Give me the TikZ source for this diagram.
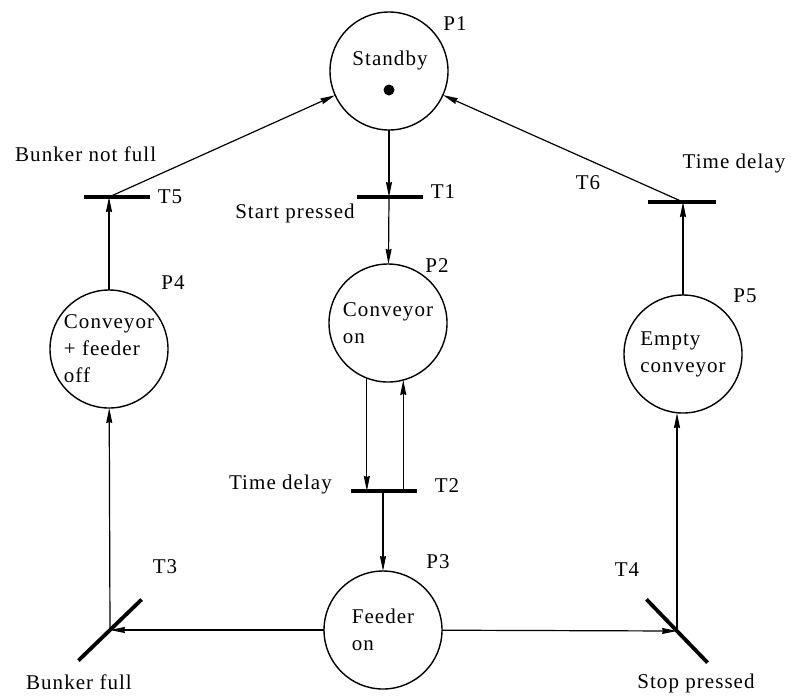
\documentclass[tikz,border=0pt]{standalone}
\usepackage{fontspec}
\setmainfont{Liberation Serif}[LetterSpace=5]
\usetikzlibrary{arrows.meta,calc}
\begin{document}
\begin{tikzpicture}[x=1pt,y=-1pt,
  every node/.style={font=\fontsize{21}{27}\selectfont},
  place/.style={circle,draw,line width=1.4pt,minimum size=118pt,inner sep=0pt,outer sep=0pt,align=left},
  tbar/.style={rectangle,fill=black,minimum width=66pt,minimum height=3.8pt,inner sep=0pt,outer sep=0pt},
  arc/.style={line width=1.2pt,-{Stealth[length=15pt,width=6pt,inset=1pt]}},
  lbl/.style={inner sep=0pt},
  tok/.style={circle,fill=black,minimum size=11pt,inner sep=0pt}
]
\path[use as bounding box] (0,0) rectangle (791,697);

% places
\node[place] (P1) at (389,71) {};
\node[lbl] (standby) at (390,60) {Standby};
\node[tok] (token) at (389,90) {};
\node[place] (P2) at (388,323) {Conveyor\\on};
\node[place] (P3) at (383,630) {Feeder\\on};
\node[place] (P4) at (109,349) {Conveyor\\ + feeder\\off};
\node[place] (P5) at (683,354) {Empty\\conveyor};

% transitions
\node[tbar] (T1) at (389.5,197) {};
\node[tbar] (T2) at (383.5,491) {};
\node[tbar, minimum width=88pt, rotate=44] (T3) at (110,630) {};
\node[tbar, minimum width=88pt, rotate=-46] (T4) at (677,631) {};
\node[tbar] (T5) at (117,197) {};
\node[tbar, minimum width=68pt] (T6) at (682,202) {};

% arcs
\draw[arc] (P1) -- (P1 |- T1);
\draw[arc] (P1 |- T1) -- (P2);
\draw[arc] (P2.-111.5) -- (P2.-111.5 |- T2.center);
\draw[arc] (P2.-75.5 |- T2.center) -- (P2.-75.5);
\draw[arc] (P3 |- T2) -- (P3);
\draw[arc] (P3) -- (T3.center);
\draw[arc] (P3) -- (T4.center);
\draw[arc] (T3.center) -- (P4);
\draw[arc] (T4.center) -- (T4.center |- P5.south);
\draw[arc] (P4) -- (P4 |- T5);
\draw[arc] (P4 |- T5) -- (P1);
\draw[arc] (P5) -- (P5 |- T6);
\draw[arc] (P5 |- T6) -- (P1);

% labels
\node[lbl] (lP1) at (455,24) {P1};
\node[lbl] (lP2) at (437,266) {P2};
\node[lbl] (lP3) at (438,562) {P3};
\node[lbl] (lP4) at (173,283) {P4};
\node[lbl] (lP5) at (745,296) {P5};
\node[lbl] (lT1) at (443,192) {T1};
\node[lbl] (lT2) at (447,486) {T2};
\node[lbl] (lT3) at (165,567) {T3};
\node[lbl] (lT4) at (627,570) {T4};
\node[lbl] (lT5) at (170,197) {T5};
\node[lbl] (lT6) at (588,183) {T6};
\node[lbl] (start) at (295,213) {Start pressed};
\node[lbl, anchor=east] (delay2) at (332,484) {Time delay};
\node[lbl] (bfull) at (79,682) {Bunker full};
\node[lbl] (stop) at (696,683) {Stop pressed};
\node[lbl, anchor=west] (bnot) at (15,154) {Bunker not full};
\node[lbl] (delay6) at (734,163) {Time delay};
\end{tikzpicture}
\end{document}
